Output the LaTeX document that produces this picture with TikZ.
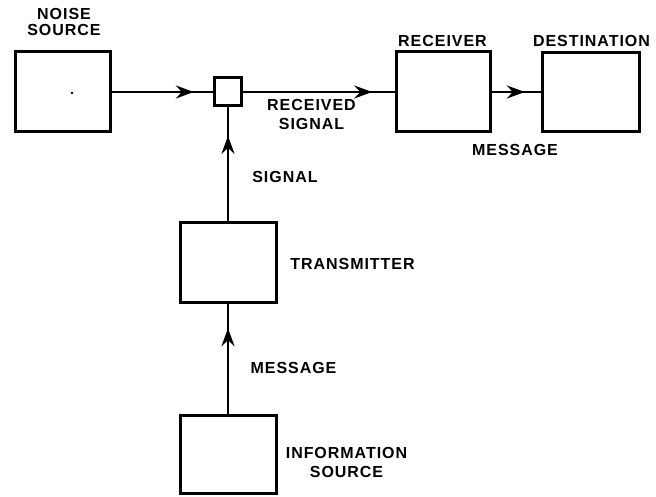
\documentclass[tikz,border=0pt]{standalone}
\usepackage{fontspec}
\newfontfamily\labelfont[LetterSpace=6]{Liberation Sans}
\usetikzlibrary{arrows.meta,decorations.markings}

\tikzset{
  block/.style={draw,line width=3pt,inner sep=0pt,minimum width=96pt,minimum height=80pt},
  lbl/.style={font=\labelfont\bfseries\fontsize{16}{19}\selectfont,align=center,inner sep=0pt},
  link/.style={line width=2.6pt},
  midarrow/.style={postaction={decorate},decoration={markings,
    mark=at position #1 with {\arrow{Stealth[length=18pt,width=13pt,inset=6pt]}}}}
}

\begin{document}
\begin{tikzpicture}[x=1pt,y=-1pt]
  \useasboundingbox (0,0) rectangle (656,497);

  % boxes
  \node[block,minimum width=95pt,minimum height=80pt] (noise) at (63,92) {};
  \node[block,minimum width=27pt,minimum height=28pt] (mix) at (228,92) {};
  \node[block,minimum width=94pt] (rx) at (443.5,92) {};
  \node[block,minimum width=97pt,minimum height=79pt] (dest) at (591,92) {};
  \node[block] (tx) at (228,262.5) {};
  \node[block,minimum height=78pt] (src) at (228,454.5) {};
  \fill (72,93) circle (1.4pt);

  % signal path
  \draw[link,midarrow=0.81] (noise) -- (mix);
  \draw[link,midarrow=0.85] (mix) -- (rx);
  \draw[link,midarrow=0.67] (rx) -- (dest);
  \draw[link,midarrow=0.75] (tx) -- (mix);
  \draw[link,midarrow=0.78] (src) -- (tx);

  % labels
  \node[lbl] (noiselbl) at (64,21.5) {NOISE\\[-3pt]SOURCE};
  \node[lbl] (rxlbl) at (442.5,41) {RECEIVER};
  \node[lbl] (destlbl) at (591.5,41) {DESTINATION};
  \node[lbl] (rsiglbl) at (311.5,114) {RECEIVED\\SIGNAL};
  \node[lbl] (msgout) at (515,149.5) {MESSAGE};
  \node[lbl] (siglbl) at (285,177) {SIGNAL};
  \node[lbl] (txlbl) at (352.5,263.5) {TRANSMITTER};
  \node[lbl] (msgin) at (293.5,368) {MESSAGE};
  \node[lbl] (srclbl) at (346.5,462.5) {INFORMATION\\SOURCE};
\end{tikzpicture}
\end{document}
